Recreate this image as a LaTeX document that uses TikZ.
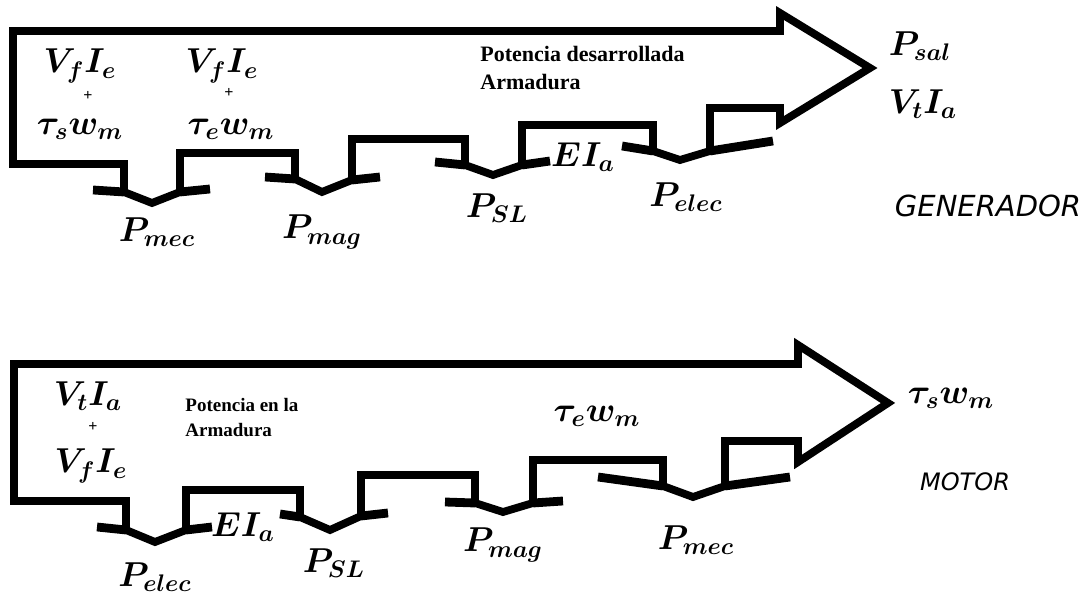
\documentclass[tikz,border=0pt]{standalone}
\usepackage{fontspec}
\setmainfont{Liberation Serif}
\newfontfamily\rotulofont{DejaVu Sans}
\usepackage{amsmath,bm}
\usepackage{tikz}
\tikzset{
  flujo/.style={line width=3.9pt,line join=miter},
  aleta/.style={line width=4.4pt},
  mat/.style={font=\fontsize{17.5}{20}\selectfont,inner sep=0pt},
  mas/.style={font=\fontsize{8}{9}\selectfont\bfseries,inner sep=0pt},
  nota/.style={font=\bfseries,align=left,inner sep=0pt,anchor=north west},
}

\begin{document}
\begin{tikzpicture}[x=0.5pt,y=-0.5pt,
  rotulo/.style={font=\rotulofont\itshape\fontsize{14.5}{16}\selectfont,inner sep=0pt}]
  \useasboundingbox (0,0) rectangle (1091,597);
  % generador
  \draw[flujo] (780,31) -- (13,31) -- (13,164) -- (124,164) -- (124,192) -- (152,203) -- (180,192)
    -- (180,153) -- (295,153) -- (295,179) -- (322,192) -- (352,180) -- (352,139) -- (465,139)
    -- (465,165) -- (493,175) -- (522,165) -- (522,125) -- (653,125) -- (653,151) -- (680,160)
    -- (710,151) -- (710,108) -- (780,108) -- (780,123) -- (870,68) -- (780,13) -- cycle;
  \foreach \a/\b/\c/\d in {93/190/124/192,180/192/210/189,265/177/295/179,352/180/380/177,
    435/162/465/165,522/165/550/161,622/146/653/151,710/151/773/141}
    \draw[aleta] (\a,\b) -- (\c,\d);
  \node[mat] (vfie1) at (80,66) {$\bm{V_f I_e}$};
  \node[mas] (mas1) at (88,96) {+};
  \node[mat] (tsw1) at (80,129) {$\bm{\tau_s w_m}$};
  \node[mat] (vfie2) at (222,66) {$\bm{V_f I_e}$};
  \node[mas] (mas2) at (229,93) {+};
  \node[mat] (tew1) at (231,129) {$\bm{\tau_e w_m}$};
  \node[mat] (pmec1) at (157,232) {$\bm{P_{mec}}$};
  \node[mat] (pmag1) at (322,232) {$\bm{P_{mag}}$};
  \node[nota,font=\fontsize{11}{14}\selectfont\bfseries] (potgen) at (480,46) {Potencia desarrollada\\Armadura};
  \node[mat] (psl1) at (497,208) {$\bm{P_{SL}}$};
  \node[mat] (eia1) at (583,157) {$\bm{E I_a}$};
  \node[mat] (pelec1) at (686,197) {$\bm{P_{elec}}$};
  \node[mat] (psal) at (920,46) {$\bm{P_{sal}}$};
  \node[mat] (vtia1) at (923,104) {$\bm{V_t I_a}$};
  \node[rotulo] (gen) at (988,206) {GENERADOR};
  % motor
  \draw[flujo] (798,364) -- (14,364) -- (14,501) -- (126,501) -- (126,530) -- (155,542) -- (186,530)
    -- (186,490) -- (300,490) -- (300,517) -- (330,530) -- (361,516) -- (361,475) -- (475,475)
    -- (475,503) -- (503,512) -- (533,503) -- (533,460) -- (663,460) -- (663,486) -- (693,497)
    -- (725,486) -- (725,441) -- (798,441) -- (798,462) -- (888,403) -- (798,345) -- cycle;
  \foreach \a/\b/\c/\d in {97/527/126/530,186/530/212/527,280/514/300/517,361/516/388/513,
    445/502/475/503,533/503/563/501,598/477/663/486,725/486/790/477}
    \draw[aleta] (\a,\b) -- (\c,\d);
  \node[mat] (vtia2) at (88,396) {$\bm{V_t I_a}$};
  \node[mas] (mas3) at (93,427) {+};
  \node[mat] (vfie3) at (91,466) {$\bm{V_f I_e}$};
  \node[nota,font=\fontsize{9.5}{12.5}\selectfont\bfseries] (potmot) at (185,398) {Potencia en la\\Armadura};
  \node[mat] (eia2) at (243,527) {$\bm{E I_a}$};
  \node[mat] (pelec2) at (155,577) {$\bm{P_{elec}}$};
  \node[mat] (psl2) at (334,563) {$\bm{P_{SL}}$};
  \node[mat] (tew2) at (597,416) {$\bm{\tau_e w_m}$};
  \node[mat] (pmag2) at (503,545) {$\bm{P_{mag}}$};
  \node[mat] (pmec2) at (696,540) {$\bm{P_{mec}}$};
  \node[mat] (tsw2) at (951,398) {$\bm{\tau_s w_m}$};
  \node[rotulo,font=\rotulofont\itshape\fontsize{12}{14}\selectfont] (mot) at (965,482) {MOTOR};
\end{tikzpicture}
\end{document}
